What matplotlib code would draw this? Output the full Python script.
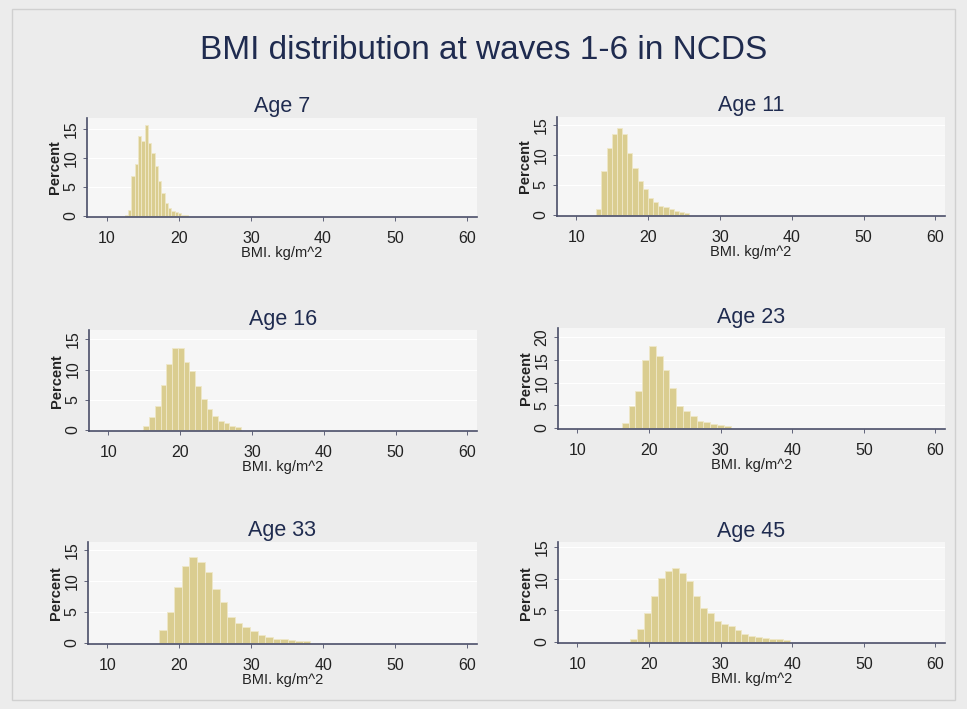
import matplotlib
matplotlib.use('Agg')
import matplotlib.pyplot as plt
import numpy as np

plt.rcParams['font.family'] = ['Liberation Sans', 'DejaVu Sans']

# Percent of cohort in each BMI bin, by sweep
ages = ['Age 7', 'Age 11', 'Age 16', 'Age 23', 'Age 33', 'Age 45']
bin_start = [12.54, 12.77, 14.87, 16.2, 17.2, 17.4]
bin_width = [0.46, 0.72, 0.8, 0.95, 1.05, 0.97]

pct_age7 = [0.2, 1.0, 6.8, 9.0, 13.7, 12.8, 15.7, 12.5, 10.8, 8.6, 6.0, 4.0,
            2.2, 1.4, 0.9, 0.6, 0.4, 0.2, 0.15]
pct_age11 = [1.0, 7.3, 11.2, 13.4, 14.4, 13.4, 10.3, 7.9, 5.7, 4.3, 2.9, 2.1,
             1.5, 1.3, 1.0, 0.7, 0.5, 0.3]
pct_age16 = [0.7, 2.1, 4.0, 7.5, 11.0, 13.5, 13.5, 11.3, 9.7, 7.2, 5.1, 3.4,
             2.3, 1.5, 1.1, 0.7, 0.4]
pct_age23 = [1.2, 4.9, 8.1, 15.0, 18.1, 15.9, 12.8, 8.8, 4.9, 3.8, 2.7, 1.6,
             1.4, 0.9, 0.7, 0.4]
pct_age33 = [2.0, 5.0, 8.9, 12.3, 13.8, 13.0, 11.4, 8.7, 6.5, 4.1, 3.2, 2.5,
             1.8, 1.2, 0.9, 0.6, 0.5, 0.4, 0.3, 0.2]
pct_age45 = [0.5, 2.1, 4.5, 7.2, 10.1, 11.3, 11.8, 10.9, 9.7, 7.2, 5.4, 4.6,
             3.3, 2.8, 2.5, 1.8, 1.2, 1.0, 0.7, 0.6, 0.5, 0.4, 0.3]
pct_all = [pct_age7, pct_age11, pct_age16, pct_age23, pct_age33, pct_age45]

x_ticks = [10, 20, 30, 40, 50, 60]
y_ticks = [[0, 5, 10, 15], [0, 5, 10, 15], [0, 5, 10, 15],
           [0, 5, 10, 15, 20], [0, 5, 10, 15], [0, 5, 10, 15]]
y_top = [16.9, 16.3, 16.5, 22.0, 16.3, 15.8]

# axes boxes in figure fractions: left, bottom, width, height
boxes = [[0.090, 0.694, 0.403, 0.140], [0.576, 0.695, 0.401, 0.140],
         [0.092, 0.392, 0.401, 0.142], [0.577, 0.395, 0.400, 0.142],
         [0.091, 0.092, 0.402, 0.144], [0.577, 0.093, 0.400, 0.142]]

navy = '#1f2b4f'
axis_col = '#4a4e68'

fig = plt.figure(figsize=(9.67, 7.09), dpi=100, facecolor='#ececec')
fig.patches.append(plt.Rectangle((0.012, 0.012), 0.976, 0.976, transform=fig.transFigure,
                                 fill=False, edgecolor='#d0d0d0', lw=1.0))

fig.text(0.5, 0.929, 'BMI distribution at waves 1-6 in NCDS', ha='center', va='center',
         fontsize=24, color=navy)

for i in range(6):
    ax = fig.add_axes(boxes[i])
    ax.set_facecolor('#f6f6f6')
    h = np.array(pct_all[i])
    x = bin_start[i] + bin_width[i] * np.arange(len(h))
    ax.bar(x, h, width=bin_width[i], align='edge', color='#dacd90',
           edgecolor='#efe8c8', linewidth=0.6, zorder=2)

    ax.set_xlim(7.3, 61.3)
    ax.set_ylim(-0.2, y_top[i])
    ax.set_xticks(x_ticks)
    ax.set_yticks(y_ticks[i])
    ax.set_yticklabels([str(t) for t in y_ticks[i]], rotation=90, va='center')
    ax.tick_params(axis='both', labelsize=11.5, colors='#222222', length=3,
                   width=0.6, pad=3, direction='out')
    ax.tick_params(axis='x', pad=7)
    ax.tick_params(axis='both', color=axis_col)
    ax.grid(axis='y', color='#ffffff', linewidth=0.8, zorder=1)

    for side in ['top', 'right']:
        ax.spines[side].set_visible(False)
    for side in ['left', 'bottom']:
        ax.spines[side].set_color(axis_col)
        ax.spines[side].set_linewidth(1.2)

    ax.set_title(ages[i], fontsize=15.5, color=navy, pad=4)
    ax.set_xlabel('BMI. kg/m^2', fontsize=10.5, color='#222222', labelpad=0)
    ax.set_ylabel('Percent', fontsize=10.5, color='#222222', fontweight='bold', labelpad=1)

plt.savefig('out.png', dpi=100, facecolor=fig.get_facecolor())
